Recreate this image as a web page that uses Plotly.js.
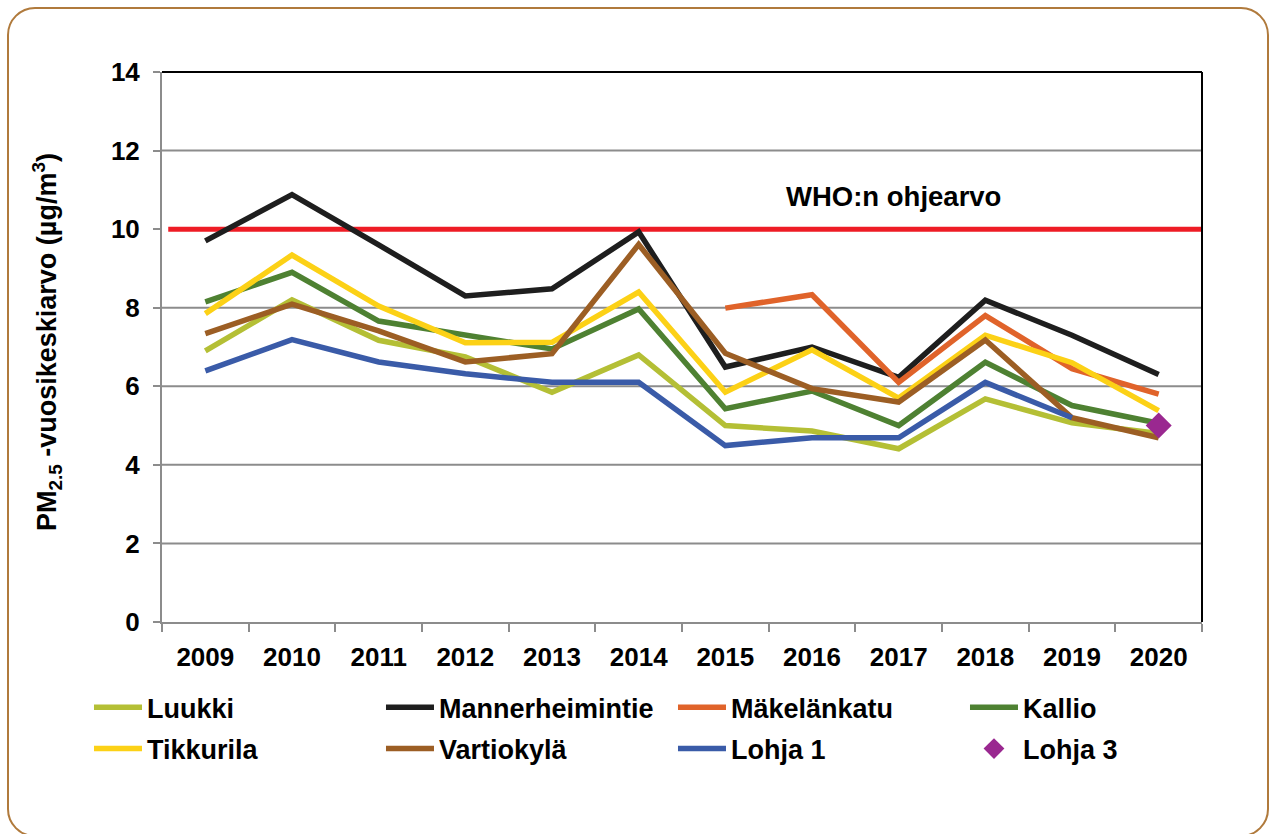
<!DOCTYPE html>
<html>
<head>
<meta charset="utf-8">
<script src="https://cdn.plot.ly/plotly-3.0.1.min.js"></script>
<style>
  html, body { margin: 0; padding: 0; background: #ffffff; }
  #wrap { position: relative; width: 1274px; height: 834px; overflow: hidden; }
  #chart { position: absolute; left: 0; top: 0; width: 1274px; height: 834px; }
  #frame { position: absolute; left: 7px; top: 7px; width: 1262px; height: 830px;
           border: 2px solid #b07a3c; border-radius: 28px; pointer-events: none; box-sizing: border-box; }
</style>
</head>
<body>
<div id="wrap">
  <div id="chart"></div>
  <div id="frame"></div>
</div>
<script>
const years = ['2009','2010','2011','2012','2013','2014','2015','2016','2017','2018','2019','2020'];
const luukki          = [6.9, 8.2, 7.17, 6.75, 5.85, 6.8, 5.0, 4.86, 4.41, 5.68, 5.07, 4.8];
const mannerheimintie = [9.7, 10.88, 9.6, 8.3, 8.48, 9.93, 6.49, 7.0, 6.23, 8.19, 7.3, 6.3];
const makelankatu     = [null, null, null, null, null, null, 7.99, 8.33, 6.1, 7.8, 6.45, 5.8];
const kallio          = [8.15, 8.9, 7.66, 7.32, 6.95, 7.97, 5.43, 5.88, 5.0, 6.61, 5.51, 5.06];
const tikkurila       = [7.85, 9.34, 8.04, 7.11, 7.12, 8.4, 5.85, 6.93, 5.7, 7.3, 6.6, 5.38];
const vartiokyla      = [7.34, 8.09, 7.41, 6.62, 6.83, 9.61, 6.84, 5.94, 5.6, 7.18, 5.2, 4.69];
const lohja1          = [6.39, 7.19, 6.62, 6.32, 6.1, 6.1, 4.49, 4.69, 4.69, 6.1, 5.2, null];
const lohja3          = [null, null, null, null, null, null, null, null, null, null, null, 5.0];
const whoLimit = 10;
const whoLabel = 'WHO:n ohjearvo';
const yTicks = [0, 2, 4, 6, 8, 10, 12, 14];

const FONT = 'Liberation Sans, Arial, sans-serif';

function lineTrace(name, y, color, legend) {
  return {
    type: 'scatter', mode: 'lines', name: name, x: years, y: y,
    line: { color: color, width: 5.5 }, connectgaps: false, legend: legend
  };
}

const data = [
  lineTrace('Luukki', luukki, '#b4bf35', 'legend'),
  lineTrace('Mannerheimintie', mannerheimintie, '#1e1e1e', 'legend'),
  lineTrace('Mäkelänkatu', makelankatu, '#e0632a', 'legend'),
  lineTrace('Kallio', kallio, '#4e8132', 'legend'),
  lineTrace('Tikkurila', tikkurila, '#fcd116', 'legend2'),
  lineTrace('Vartiokylä', vartiokyla, '#9c5e24', 'legend2'),
  lineTrace('Lohja 1', lohja1, '#3a5ba8', 'legend2'),
  {
    type: 'scatter', mode: 'markers', name: 'Lohja 3', x: years, y: lohja3,
    marker: { symbol: 'diamond', size: 20, color: '#9a2890' }, legend: 'legend2'
  }
];

const legendCommon = {
  orientation: 'h', xanchor: 'left', yanchor: 'middle',
  font: { family: FONT, size: 27, color: '#000', weight: 'bold' },
  entrywidth: 229, entrywidthmode: 'pixels', itemwidth: 48,
  bgcolor: 'rgba(0,0,0,0)', borderwidth: 0, tracegroupgap: 0
};

// gridlines drawn as shapes (below traces) so the WHO line can sit above them
const gridShapes = yTicks.filter(v => v > 0 && v !== whoLimit).map(v => ({
  type: 'line', xref: 'paper', yref: 'y', x0: 0, x1: 1, y0: v, y1: v,
  line: { color: '#8c8c8c', width: 2 }, layer: 'below'
}));

const layout = {
  width: 1274, height: 834,
  margin: { l: 162, r: 72, t: 72, b: 212 },
  paper_bgcolor: '#ffffff', plot_bgcolor: '#ffffff',
  showlegend: true,
  font: { family: FONT, color: '#000' },
  xaxis: {
    type: 'category', range: [-0.5, 11.5],
    showline: true, linecolor: '#8c8c8c', linewidth: 2,
    ticks: 'outside', tickson: 'boundaries', ticklen: 8, tickcolor: '#8c8c8c', tickwidth: 2,
    showgrid: false, zeroline: false, tickangle: 0,
    tickfont: { family: FONT, size: 26, color: '#000', weight: 'bold' },
    ticklabelstandoff: 11
  },
  yaxis: {
    range: [0, 14], tickvals: yTicks, ticktext: yTicks.map(String),
    showline: true, linecolor: '#8c8c8c', linewidth: 2,
    ticks: 'outside', ticklen: 7, tickcolor: '#8c8c8c', tickwidth: 2,
    showgrid: false, zeroline: false,
    tickfont: { family: FONT, size: 26, color: '#000', weight: 'bold' },
    ticklabelstandoff: 8
  },
  legend: Object.assign({}, legendCommon, { x: -0.0702, y: -0.156 }),
  legend2: Object.assign({}, legendCommon, { x: -0.0702, y: -0.231 }),
  shapes: gridShapes.concat([
    { type: 'line', xref: 'paper', yref: 'y', x0: 0.006, x1: 1, y0: whoLimit, y1: whoLimit,
      line: { color: '#ee1c25', width: 5 }, layer: 'below' },
    { type: 'line', xref: 'paper', yref: 'paper', x0: 0, x1: 1, y0: 1, y1: 1,
      line: { color: '#000', width: 2 } },
    { type: 'line', xref: 'paper', yref: 'paper', x0: 1, x1: 1, y0: 0, y1: 1,
      line: { color: '#000', width: 2 } }
  ]),
  annotations: [
    { text: whoLabel, xref: 'paper', yref: 'y', x: 0.703, y: 10.82,
      xanchor: 'center', yanchor: 'middle', showarrow: false,
      font: { family: FONT, size: 27.5, color: '#000', weight: 'bold' } },
    { text: 'PM<sub>2.5</sub> -vuosikeskiarvo (µg/m<sup>3</sup>)', xref: 'paper', yref: 'paper',
      x: -0.1106, y: 0.509, xanchor: 'center', yanchor: 'middle', textangle: -90, showarrow: false,
      font: { family: FONT, size: 27, color: '#000', weight: 'bold' } }
  ]
};

Plotly.newPlot('chart', data, layout, { staticPlot: true, displayModeBar: false });
</script>
</body>
</html>
